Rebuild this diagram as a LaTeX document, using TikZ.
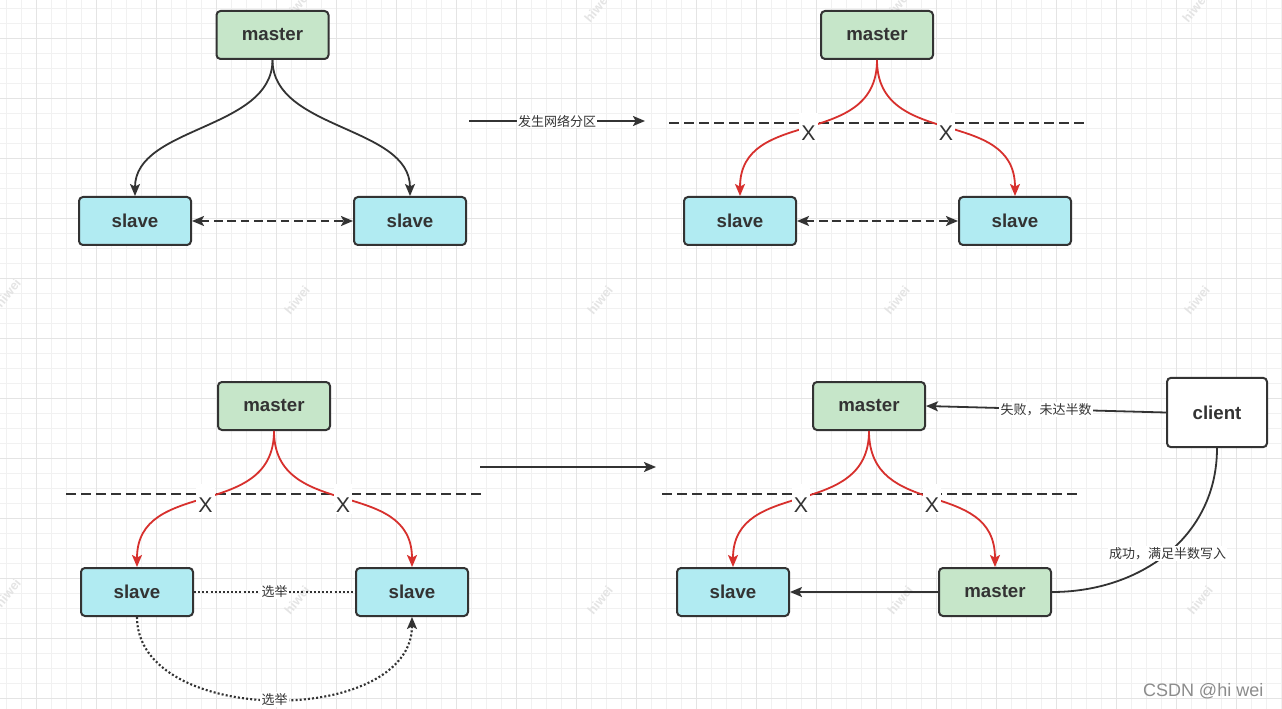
\documentclass[tikz,border=0pt]{standalone}
\usepackage{fontspec}
\setmainfont{Liberation Sans}
\newfontfamily\cjk{Noto Sans CJK SC}
\usetikzlibrary{arrows.meta}
\definecolor{mfill}{HTML}{C6E6C9}
\definecolor{sfill}{HTML}{B1EBF2}
\definecolor{edgec}{HTML}{333333}
\definecolor{redl}{HTML}{D7302D}
\definecolor{gminor}{HTML}{F1F1F1}
\definecolor{gmajor}{HTML}{E4E4E4}
\definecolor{wmc}{HTML}{E4E4E4}
\begin{document}
\begin{tikzpicture}[x=0.75pt,y=-0.75pt,
  box/.style={draw=edgec, line width=1.5pt, rounded corners=3pt, minimum width=84pt, minimum height=36pt, inner sep=0pt, text=edgec, font=\bfseries\fontsize{14}{15}\selectfont},
  mbox/.style={box, fill=mfill},
  sbox/.style={box, fill=sfill},
  cbox/.style={box, fill=white, minimum width=75pt, minimum height=52pt},
  conn/.style={draw=edgec, line width=1.35pt},
  rconn/.style={draw=redl, line width=1.35pt},
  tip/.style={-{Stealth[length=9pt,width=7.5pt,inset=2pt]}},
  tips/.style={{Stealth[length=9pt,width=7.5pt,inset=2pt]}-{Stealth[length=9pt,width=7.5pt,inset=2pt]}},
  sep/.style={draw=edgec, line width=1.35pt, dash pattern=on 7.5pt off 3.75pt},
  dashc/.style={dash pattern=on 6.5pt off 3.5pt},
  dotc/.style={line width=1.6pt, dash pattern=on 1.5pt off 1.6pt},
  xm/.style={fill=white, inner xsep=1.5pt, inner ysep=0pt, text height=21pt, text depth=1.5pt, text=edgec, font=\fontsize{16}{16}\selectfont},
  lab/.style={fill=white, inner xsep=1pt, inner ysep=1pt, text=edgec, font=\cjk\fontsize{9.75}{11}\selectfont},
  wm/.style={rotate=50, text=wmc, font=\bfseries\fontsize{9.5}{10}\selectfont}
]
\useasboundingbox (0,0) rectangle (1282,709);
\fill[white] (0,0) rectangle (1282,709);
% grid
\foreach \i in {0,...,85} {\draw[gminor, line width=0.75pt] ({6.7+15*\i},0) -- ({6.7+15*\i},709);}
\foreach \i in {0,...,47} {\draw[gminor, line width=0.75pt] (0,{8.3+15*\i}) -- (1282,{8.3+15*\i});}
\foreach \i in {0,...,21} {\draw[gmajor, line width=0.75pt] ({36.7+60*\i},0) -- ({36.7+60*\i},709);}
\foreach \i in {0,...,11} {\draw[gmajor, line width=0.75pt] (0,{38.3+60*\i}) -- (1282,{38.3+60*\i});}
% watermarks
\foreach \x/\y [count=\i] in {297/6,597/8,897/6,1195/8,8/293,297/300,600/300,897/300,1197/300,8/593,297/600,600/600,900/600,1200/600}
  {\node[wm] (w\i) at (\x,\y) {hiwei};}

% ---------- top left ----------
\node[mbox] (m1) at (272.5,35) {master};
\node[sbox] (s1) at (135,221) {slave};
\node[sbox] (s2) at (410,221) {slave};
\draw[conn,tip] (m1.south) .. controls +(0,70) and +(0,-70) .. (s1.north);
\draw[conn,tip] (m1.south) .. controls +(0,70) and +(0,-70) .. (s2.north);
\draw[conn,tips,dashc] (s1.east) -- (s2.west);

% arrow between
\coordinate (a1) at (469,121);
\coordinate (a2) at (645,121);
\draw[conn,tip] (a1) -- node[lab] (l1) {发生网络分区} (a2);

% ---------- top right ----------
\node[mbox] (m2) at (877,35) {master};
\node[sbox] (s3) at (740,221) {slave};
\node[sbox] (s4) at (1015,221) {slave};
\coordinate (d1) at (669,123);
\coordinate (d2) at (1085,123);
\draw[sep] (d1) -- (d2);
\draw[rconn,tip] (m2.south) .. controls +(0,90) and +(0,-90) .. node[xm,pos=0.5] (x1) {X} (s3.north);
\draw[rconn,tip] (m2.south) .. controls +(0,90) and +(0,-90) .. node[xm,pos=0.5] (x2) {X} (s4.north);
\draw[conn,tips,dashc] (s3.east) -- (s4.west);

% ---------- bottom left ----------
\node[mbox] (m3) at (274,406) {master};
\node[sbox] (s5) at (137,592) {slave};
\node[sbox] (s6) at (412,592) {slave};
\coordinate (d3) at (66,494);
\coordinate (d4) at (482,494);
\draw[sep] (d3) -- (d4);
\draw[rconn,tip] (m3.south) .. controls +(0,90) and +(0,-90) .. node[xm,pos=0.5] (x3) {X} (s5.north);
\draw[rconn,tip] (m3.south) .. controls +(0,90) and +(0,-90) .. node[xm,pos=0.5] (x4) {X} (s6.north);
\draw[conn,dotc] (s5.east) -- node[lab] (l2) {选举} (s6.west);
\draw[conn,dotc,tip] (s5.south) .. controls +(0,110) and +(0,110) .. node[lab,pos=0.5] (l3) {选举} (s6.south);

% arrow between
\coordinate (a3) at (480,467);
\coordinate (a4) at (656,467);
\draw[conn,tip] (a3) -- (a4);

% ---------- bottom right ----------
\node[mbox] (m4) at (869,406) {master};
\node[sbox] (s7) at (733,592) {slave};
\node[mbox] (m5) at (995,592) {master};
\node[cbox] (c) at (1217,412.5) {client};
\coordinate (d5) at (662,494);
\coordinate (d6) at (1078,494);
\draw[sep] (d5) -- (d6);
\draw[rconn,tip] (m4.south) .. controls +(0,90) and +(0,-90) .. node[xm,pos=0.5] (x5) {X} (s7.north);
\draw[rconn,tip] (m4.south) .. controls +(0,90) and +(0,-90) .. node[xm,pos=0.5] (x6) {X} (m5.north);
\draw[conn,tip] (m5.west) -- (s7.east);
\draw[conn,tip] (c.west) -- node[lab] (l4) {失败，未达半数} (m4.east);
\draw[conn] (c.south) .. controls +(0,89) and +(88,0) .. node[lab,pos=0.5] (l5) {成功，满足半数写入} (m5.east);

% footer
\node[text=black!45, font=\fontsize{13.5}{15}\selectfont, anchor=east] (csdn) at (1268,691) {CSDN @hi wei};
\end{tikzpicture}
\end{document}
